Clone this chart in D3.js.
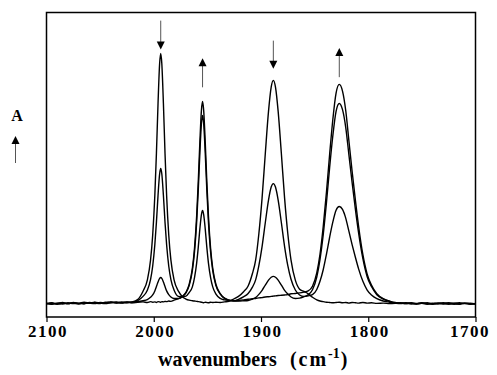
<!DOCTYPE html>
<html>
<head>
<meta charset="utf-8">
<script src="https://cdn.jsdelivr.net/npm/d3@7"></script>
<style>
  html, body { margin: 0; padding: 0; background: #fff; overflow: hidden; }
  svg { display: block; }
</style>
</head>
<body>
<div id="chart"></div>
<script>
// wavenumber grid (cm-1), finer around the four bands
const wavenumbers = [
  2100, 2095, 2090, 2085, 2080, 2075, 2070, 2065, 2060, 2055, 2050, 2045, 2040, 2035, 2030, 2025, 2020, 2015,
  2010, 2006, 2003, 2001, 1999, 1997.5, 1996, 1994.5, 1993.5, 1992.5, 1991, 1989.5, 1988, 1986, 1984, 1981, 1977, 1973,
  1970, 1967, 1964, 1962, 1960, 1958.5, 1957, 1955.5, 1954.5, 1953.5, 1952, 1950.5, 1949, 1947, 1945, 1942, 1938, 1934, 1930,
  1926, 1921, 1916, 1912, 1908, 1905, 1902, 1899, 1896, 1893, 1890.5, 1888.5, 1886.5, 1884, 1881, 1878, 1875, 1872, 1868, 1864, 1860,
  1856, 1852, 1848, 1845, 1842, 1839, 1836, 1833, 1830, 1827, 1824, 1821, 1818, 1815, 1812, 1809, 1805, 1801, 1797, 1792, 1786, 1780,
  1775, 1770, 1765, 1760, 1755, 1750, 1745, 1740, 1735, 1730, 1725, 1720, 1715, 1710, 1705, 1700
];

// absorbance of each spectrum (arbitrary units) on the grid above
const spectrum1 = [
  -0.005, -0.002, -0.006, -0.003, -0.004, -0.001, -0.004, -0.002, -0.003, 0.000, -0.003, -0.001, 0.001, -0.002, 0.001, 0.000, 0.002, 0.010,
  0.039, 0.077, 0.146, 0.232, 0.369, 0.515, 0.687, 0.825, 0.859, 0.825, 0.687, 0.515, 0.369, 0.232, 0.146, 0.077, 0.039, 0.019,
  0.012, 0.008, 0.006, 0.005, 0.004, 0.003, 0.002, 0.001, 0.000, -0.001, 0.001, 0.000, -0.001, 0.001, 0.000, 0.001, 0.000, 0.002, 0.004,
  0.011, 0.021, 0.038, 0.057, 0.100, 0.146, 0.237, 0.360, 0.513, 0.659, 0.743, 0.766, 0.743, 0.659, 0.513, 0.360, 0.237, 0.146, 0.077, 0.046, 0.038,
  0.030, 0.018, 0.009, 0.005, 0.003, 0.001, 0.000, -0.001, 0.000, 0.001, -0.001, 0.000, -0.002, 0.000, -0.001, -0.002, 0.000, -0.002, -0.001, -0.003, -0.002, -0.004,
  -0.003, -0.001, -0.004, -0.002, -0.005, -0.003, -0.006, -0.004, -0.002, -0.005, -0.003, -0.006, -0.004, -0.002, -0.005, -0.003
];
const spectrum2 = [
  -0.003, -0.006, -0.002, -0.005, -0.001, -0.004, -0.002, -0.005, 0.000, -0.002, -0.004, 0.001, -0.001, 0.000, -0.002, 0.002, 0.000, 0.006,
  0.021, 0.042, 0.079, 0.125, 0.199, 0.277, 0.370, 0.444, 0.462, 0.444, 0.370, 0.277, 0.199, 0.125, 0.079, 0.042, 0.021, 0.020,
  0.022, 0.034, 0.054, 0.086, 0.136, 0.190, 0.254, 0.304, 0.317, 0.304, 0.254, 0.190, 0.136, 0.086, 0.054, 0.029, 0.014, 0.009, 0.007,
  0.006, 0.011, 0.020, 0.031, 0.053, 0.078, 0.127, 0.193, 0.275, 0.353, 0.398, 0.410, 0.398, 0.353, 0.275, 0.193, 0.127, 0.080, 0.043, 0.026, 0.021,
  0.023, 0.027, 0.045, 0.073, 0.113, 0.166, 0.225, 0.278, 0.318, 0.331, 0.321, 0.291, 0.245, 0.199, 0.156, 0.116, 0.073, 0.043, 0.026, 0.013, 0.005, 0.001,
  -0.002, -0.004, -0.001, -0.003, -0.005, -0.002, -0.004, -0.006, -0.003, -0.001, -0.004, -0.002, -0.005, -0.003, -0.006, -0.004
];
const spectrum3 = [
  -0.004, -0.001, -0.005, -0.002, -0.004, 0.000, -0.003, 0.001, -0.002, -0.004, 0.000, -0.002, 0.002, -0.001, 0.001, -0.001, 0.002, 0.003,
  0.006, 0.010, 0.018, 0.026, 0.040, 0.055, 0.071, 0.083, 0.086, 0.083, 0.071, 0.055, 0.040, 0.027, 0.019, 0.014, 0.014, 0.021,
  0.033, 0.058, 0.110, 0.174, 0.277, 0.387, 0.516, 0.619, 0.645, 0.619, 0.516, 0.387, 0.277, 0.174, 0.110, 0.058, 0.029, 0.014, 0.008,
  0.006, 0.005, 0.006, 0.007, 0.012, 0.017, 0.028, 0.042, 0.060, 0.077, 0.087, 0.090, 0.087, 0.077, 0.060, 0.042, 0.029, 0.019, 0.014, 0.015, 0.020,
  0.027, 0.044, 0.088, 0.148, 0.233, 0.343, 0.466, 0.576, 0.659, 0.686, 0.665, 0.604, 0.508, 0.412, 0.322, 0.240, 0.151, 0.089, 0.055, 0.027, 0.012, 0.004,
  -0.001, -0.003, -0.002, -0.005, -0.003, -0.001, -0.004, -0.002, -0.005, -0.003, -0.001, -0.004, -0.006, -0.002, -0.004, -0.005
];
const spectrum4 = [
  -0.002, -0.005, -0.003, 0.000, -0.004, -0.002, -0.005, -0.001, -0.003, 0.001, -0.002, -0.004, 0.000, 0.002, -0.001, 0.001, -0.001, 0.001,
  0.002, 0.000, 0.003, 0.001, 0.002, 0.000, 0.003, 0.002, 0.001, 0.003, 0.002, 0.004, 0.003, 0.005, 0.004, 0.008, 0.013, 0.022,
  0.035, 0.062, 0.118, 0.187, 0.298, 0.416, 0.554, 0.665, 0.693, 0.665, 0.554, 0.416, 0.298, 0.187, 0.118, 0.062, 0.031, 0.015, 0.008,
  0.006, 0.007, 0.009, 0.011, 0.013, 0.014, 0.016, 0.017, 0.019, 0.020, 0.021, 0.022, 0.023, 0.024, 0.025, 0.026, 0.027, 0.030, 0.031, 0.033, 0.036,
  0.040, 0.056, 0.102, 0.166, 0.261, 0.379, 0.511, 0.632, 0.722, 0.752, 0.729, 0.662, 0.556, 0.451, 0.353, 0.263, 0.165, 0.098, 0.060, 0.030, 0.013, 0.005,
  0.000, -0.002, -0.004, -0.001, -0.004, -0.003, -0.001, -0.005, -0.002, -0.004, -0.006, -0.003, -0.001, -0.004, -0.002, -0.005
];

const xTicks = [2100, 2000, 1900, 1800, 1700];

// trend arrows over the bands: from -> to in absorbance units
const arrows = [
  { wn: 1993.5, from: 0.972, to: 0.872 },
  { wn: 1954.5, from: 0.742, to: 0.842 },
  { wn: 1888.5, from: 0.903, to: 0.806 },
  { wn: 1827, from: 0.777, to: 0.878 },
];

const width = 497, height = 375;
const margins = { top: 12.5, right: 21.5, bottom: 58, left: 46.5 };
const innerWidth = width - margins.left - margins.right;
const innerHeight = height - margins.top - margins.bottom;
const serif = "'Liberation Serif', 'Times New Roman', serif";

const svg = d3.select("#chart")
  .append("svg")
  .attr("width", width)
  .attr("height", height)
  .attr("viewBox", `0 0 ${width} ${height}`);

const mainG = svg.append("g")
  .attr("transform", `translate(${margins.left},${margins.top})`);

const xScale = d3.scaleLinear().domain([2100, 1700]).range([0, innerWidth]);
const yScale = d3.scaleLinear().domain([-0.05, 1]).range([innerHeight, 0]);

// Spectra
const spectra = [spectrum1, spectrum2, spectrum3, spectrum4];
const line = d3.line()
  .x((d) => xScale(d[0]))
  .y((d) => yScale(d[1]))
  .curve(d3.curveMonotoneX);

mainG.append("g").attr("class", "spectra")
  .selectAll("path")
  .data(spectra.map((s) => wavenumbers.map((w, i) => [w, s[i]])))
  .join("path")
  .attr("fill", "none")
  .attr("stroke", "#000")
  .attr("stroke-width", 1.4)
  .attr("stroke-linejoin", "round")
  .attr("d", line);

// Frame
mainG.append("rect")
  .attr("width", innerWidth)
  .attr("height", innerHeight)
  .attr("fill", "none")
  .attr("stroke", "#000")
  .attr("stroke-width", 1.5);

// X axis
const xAxisG = mainG.append("g")
  .attr("transform", `translate(0,${innerHeight})`)
  .call(d3.axisBottom(xScale).tickValues(xTicks).tickSize(5).tickFormat(d3.format("d")));
xAxisG.select(".domain").remove();
xAxisG.selectAll("line").attr("stroke", "#000").attr("stroke-width", 1.2);
xAxisG.selectAll("text")
  .style("font-family", serif)
  .attr("font-weight", "bold")
  .attr("font-size", "17px")
  .attr("letter-spacing", "1.5px")
  .attr("fill", "#000")
  // last label is pulled inside the window like in the original
  .attr("dx", (d) => (d === 1700 ? -6 : 1));

// X title
const title = svg.append("text")
  .attr("x", 158)
  .attr("y", 366)
  .style("font-family", serif)
  .attr("font-weight", "bold")
  .attr("font-size", "20px")
  .attr("fill", "#000");
title.append("tspan").text("wavenumbers");
title.append("tspan").attr("dx", 13).attr("letter-spacing", "2px").text("(cm");
title.append("tspan").attr("dy", -8).attr("font-size", "14px").text("-1");
title.append("tspan").attr("dy", 8).attr("dx", 1).text(")");

// Trend arrows
const arrowG = mainG.append("g").attr("class", "arrows");
arrows.forEach((a) => {
  const x = xScale(a.wn);
  const y0 = yScale(a.from);
  const y1 = yScale(a.to);
  const dir = y1 > y0 ? 1 : -1;
  arrowG.append("line")
    .attr("x1", x).attr("x2", x)
    .attr("y1", y0).attr("y2", y1 - dir * 6)
    .attr("stroke", "#555").attr("stroke-width", 1);
  arrowG.append("path")
    .attr("d", `M${x},${y1} L${x - 4},${y1 - dir * 8} L${x + 4},${y1 - dir * 8} Z`)
    .attr("fill", "#000");
});

// "A" label with arrow
svg.append("text")
  .attr("x", 17)
  .attr("y", 120.5)
  .attr("text-anchor", "middle")
  .style("font-family", serif)
  .attr("font-weight", "bold")
  .attr("font-size", "16px")
  .text("A");
svg.append("line")
  .attr("x1", 15.5).attr("x2", 15.5)
  .attr("y1", 163).attr("y2", 142)
  .attr("stroke", "#555").attr("stroke-width", 1);
svg.append("path")
  .attr("d", "M15.5,136 L11.5,144 L19.5,144 Z")
  .attr("fill", "#000");
</script>
</body>
</html>
